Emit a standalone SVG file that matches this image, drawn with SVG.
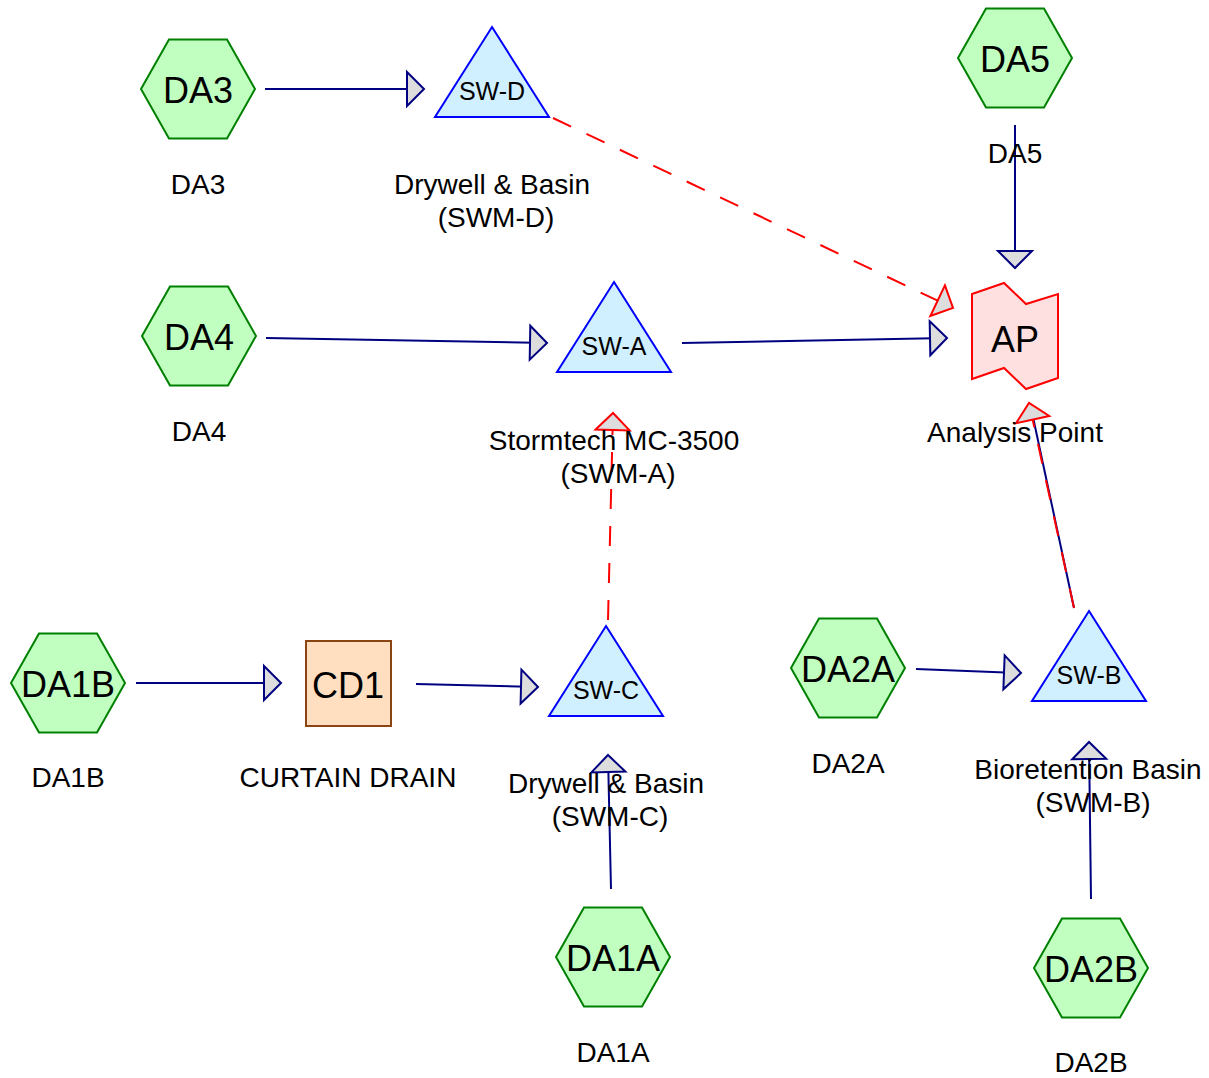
<svg xmlns="http://www.w3.org/2000/svg" width="1209" height="1078" viewBox="0 0 1209 1078">
<style>
text{font-family:"Liberation Sans",Arial,sans-serif;fill:#000;text-anchor:middle}
.hex{fill:#c0ffc0;stroke:#008000;stroke-width:2}
.tri{fill:#d0efff;stroke:#0000ff;stroke-width:2}
.big{font-size:36px}
.mid{font-size:25px}
.lbl{font-size:28px}
.c{fill:none;stroke:#000080;stroke-width:2;marker-end:url(#ah)}
.b{fill:none;stroke:#000080;stroke-width:2}
.r{fill:none;stroke:#ff0000;stroke-width:2;stroke-dasharray:20 17;marker-end:url(#ahr)}
</style>
<defs>
<marker id="ah" markerUnits="userSpaceOnUse" markerWidth="20" markerHeight="38" viewBox="0 -19 19 38" refX="17" refY="0" orient="auto" overflow="visible"><path d="M0,-17 L17,0 L0,17 Z" fill="#dddddd" stroke="#000080" stroke-width="2"/></marker>
<marker id="ahr" markerUnits="userSpaceOnUse" markerWidth="20" markerHeight="38" viewBox="0 -19 19 38" refX="17" refY="0" orient="auto" overflow="visible"><path d="M0,-17 L17,0 L0,17 Z" fill="#dddddd" stroke="#ff0000" stroke-width="2" stroke-dasharray="none"/></marker>
</defs>
<rect width="1209" height="1078" fill="#fff"/>
<g id="connectors">
<line class="c" x1="265" y1="89" x2="424" y2="89"/>
<line class="c" x1="1015" y1="125" x2="1015" y2="268"/>
<line class="c" x1="266" y1="338" x2="547" y2="343"/>
<line class="c" x1="682" y1="343" x2="947" y2="338"/>
<line class="r" x1="553" y1="118" x2="953" y2="308"/>
<line class="r" x1="608" y1="620" x2="613" y2="413"/>
<line class="b" x1="1074" y1="608" x2="1033.5" y2="419.5"/>
<line class="r" x1="1074" y1="608" x2="1029" y2="403"/>
<line class="c" x1="136" y1="683" x2="281" y2="683"/>
<line class="c" x1="416" y1="684" x2="538" y2="687"/>
<line class="c" x1="611" y1="889" x2="608" y2="755"/>
<line class="c" x1="916" y1="669" x2="1021" y2="673"/>
<line class="c" x1="1091" y1="899" x2="1089" y2="742"/>
</g>
<g id="DA3">
<polygon class="hex" points="141,89 169,39.5 227,39.5 255,89 227,138.5 169,138.5"/>
<text class="big" x="198" y="103">DA3</text>
<text class="lbl" x="198" y="194">DA3</text>
</g>
<g id="SW-D">
<polygon class="tri" points="492,27 549,117 435,117"/>
<text class="mid" x="492" y="100">SW-D</text>
<text class="lbl" x="492" y="194">Drywell &amp; Basin</text>
<text class="lbl" x="496" y="227">(SWM-D)</text>
</g>
<g id="DA5">
<polygon class="hex" points="958,58 986,8.5 1044,8.5 1072,58 1044,107.5 986,107.5"/>
<text class="big" x="1015" y="72">DA5</text>
<text class="lbl" x="1015" y="163">DA5</text>
</g>
<g id="DA4">
<polygon class="hex" points="142,336 170,286.5 228,286.5 256,336 228,385.5 170,385.5"/>
<text class="big" x="199" y="350">DA4</text>
<text class="lbl" x="199" y="441">DA4</text>
</g>
<g id="SW-A">
<polygon class="tri" points="614,282 671,372 557,372"/>
<text class="mid" x="614" y="355">SW-A</text>
<text class="lbl" x="614" y="450">Stormtech MC-3500</text>
<text class="lbl" x="618" y="483">(SWM-A)</text>
</g>
<g id="AP">
<path d="M972,294 L1004,283 L1026,304 L1058,294 L1058,378 L1026,389 L1004,368 L972,379 Z" fill="#ffe0e0" stroke="#ff0000" stroke-width="2"/>
<text class="big" x="1015" y="352">AP</text>
<text class="lbl" x="1015" y="442">Analysis Point</text>
</g>
<g id="DA1B">
<polygon class="hex" points="11,683 39,633.5 97,633.5 125,683 97,732.5 39,732.5"/>
<text class="big" x="68" y="697">DA1B</text>
<text class="lbl" x="68" y="787">DA1B</text>
</g>
<g id="CD1">
<rect x="306" y="641" width="85" height="85" fill="#ffdfbf" stroke="#8b4513" stroke-width="2"/>
<text class="big" x="348" y="698">CD1</text>
<text class="lbl" x="348" y="787">CURTAIN DRAIN</text>
</g>
<g id="SW-C">
<polygon class="tri" points="606,626 663,716 549,716"/>
<text class="mid" x="606" y="699">SW-C</text>
<text class="lbl" x="606" y="793">Drywell &amp; Basin</text>
<text class="lbl" x="610" y="826">(SWM-C)</text>
</g>
<g id="DA2A">
<polygon class="hex" points="791,668 819,618.5 877,618.5 905,668 877,717.5 819,717.5"/>
<text class="big" x="848" y="682">DA2A</text>
<text class="lbl" x="848" y="773">DA2A</text>
</g>
<g id="SW-B">
<polygon class="tri" points="1089,611 1146,701 1032,701"/>
<text class="mid" x="1089" y="684">SW-B</text>
<text class="lbl" x="1088" y="779">Bioretention Basin</text>
<text class="lbl" x="1093" y="812">(SWM-B)</text>
</g>
<g id="DA1A">
<polygon class="hex" points="556,957 584,907.5 642,907.5 670,957 642,1006.5 584,1006.5"/>
<text class="big" x="613" y="971">DA1A</text>
<text class="lbl" x="613" y="1062">DA1A</text>
</g>
<g id="DA2B">
<polygon class="hex" points="1034,968 1062,918.5 1120,918.5 1148,968 1120,1017.5 1062,1017.5"/>
<text class="big" x="1091" y="982">DA2B</text>
<text class="lbl" x="1091" y="1072">DA2B</text>
</g>
</svg>
